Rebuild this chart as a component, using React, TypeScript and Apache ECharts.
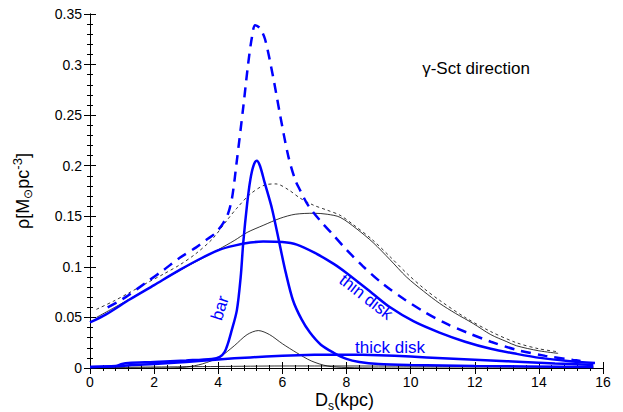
import React, { useEffect, useRef } from "react";
import * as echarts from "echarts";

// ---- data (x in kpc, y in M_sun pc^-3) ----
const totalBlueX = [0.55, 0.9, 1.2, 1.77, 2.3, 2.8, 3.3, 3.64, 3.9, 4.15, 4.3, 4.43, 4.58, 4.78, 4.93, 5.05, 5.15, 5.3, 5.46, 5.71, 5.93, 6.18, 6.4, 6.55, 6.8, 7.17, 7.6, 8.0, 8.5, 9.14, 9.8, 10.4, 11.1, 11.76, 12.5, 13.3, 14.2, 15.07, 15.3];
const totalBlueY = [0.060, 0.066, 0.072, 0.085, 0.097, 0.109, 0.119, 0.127, 0.133, 0.143, 0.152, 0.168, 0.205, 0.258, 0.300, 0.327, 0.339, 0.336, 0.325, 0.288, 0.250, 0.210, 0.186, 0.176, 0.161, 0.146, 0.131, 0.117, 0.101, 0.083, 0.068, 0.056, 0.044, 0.035, 0.026, 0.018, 0.012, 0.008, 0.007];

const thinDiskX = [0, 0.5, 1.25, 2, 2.8, 3.5, 4.05, 4.5, 5.0, 5.4, 6.0, 6.45, 7.0, 7.6, 8.0, 8.8, 9.36, 10.1, 10.9, 11.7, 12.5, 13.3, 14.04, 14.9, 15.75];
const thinDiskY = [0.045, 0.053, 0.068, 0.082, 0.097, 0.109, 0.117, 0.121, 0.124, 0.125, 0.1245, 0.122, 0.114, 0.103, 0.094, 0.074, 0.060, 0.046, 0.035, 0.026, 0.019, 0.014, 0.010, 0.007, 0.005];

const barX = [0, 0.8, 1.0, 1.2, 2, 3, 3.8, 4.05, 4.2, 4.3, 4.4, 4.58, 4.7, 4.78, 4.9, 5.0, 5.1, 5.2, 5.3, 5.45, 5.68, 5.93, 6.1, 6.33, 6.6, 6.86, 7.2, 7.6, 8.0, 8.4, 9, 10, 12, 15.7];
const barY = [0.001, 0.002, 0.004, 0.005, 0.006, 0.0075, 0.009, 0.011, 0.016, 0.024, 0.035, 0.057, 0.09, 0.124, 0.162, 0.186, 0.2, 0.205, 0.2, 0.183, 0.157, 0.12, 0.095, 0.067, 0.048, 0.035, 0.023, 0.015, 0.009, 0.006, 0.004, 0.003, 0.002, 0.001];

const thickDiskX = [0, 1.0, 1.3, 2, 3, 4, 5, 6, 7, 7.8, 8.5, 9.5, 10.5, 11.5, 12.5, 13.5, 14.5, 15.7];
const thickDiskY = [0.001, 0.002, 0.003, 0.004, 0.006, 0.0085, 0.0105, 0.012, 0.013, 0.0132, 0.013, 0.012, 0.0105, 0.009, 0.0075, 0.006, 0.0045, 0.003];

const thinModelX = [0.2, 1, 2, 3, 3.6, 4.0, 4.5, 4.9, 5.4, 5.93, 6.4, 7.0, 7.4, 7.8, 8.3, 8.83, 9.36, 9.87, 10.4, 10.9, 11.4, 11.95, 12.5, 13.0, 13.3, 14.0, 14.6];
const thinModelY = [0.050, 0.064, 0.082, 0.100, 0.110, 0.117, 0.126, 0.134, 0.141, 0.148, 0.152, 0.153, 0.152, 0.149, 0.138, 0.124, 0.107, 0.090, 0.076, 0.064, 0.054, 0.044, 0.033, 0.026, 0.022, 0.017, 0.0145];

const totalModelX = [0.2, 0.73, 1.2, 1.77, 2.3, 2.8, 3.3, 3.83, 4.27, 4.58, 5.0, 5.46, 5.8, 6.2, 6.55, 6.97, 7.4, 7.8, 8.2, 8.8, 9.36, 9.9, 10.4, 10.9, 11.7, 12.5, 13.3, 14.0, 14.6];
const totalModelY = [0.058, 0.066, 0.074, 0.084, 0.093, 0.102, 0.113, 0.128, 0.146, 0.158, 0.172, 0.181, 0.182, 0.176, 0.168, 0.161, 0.156, 0.151, 0.142, 0.127, 0.110, 0.093, 0.079, 0.067, 0.050, 0.036, 0.025, 0.019, 0.016];

const barModelX = [0, 2.5, 3.0, 3.5, 4.05, 4.5, 4.9, 5.25, 5.6, 6.0, 6.45, 6.9, 7.4, 8, 9, 15.7];
const barModelY = [0, 0, 0.001, 0.004, 0.011, 0.022, 0.033, 0.037, 0.033, 0.024, 0.015, 0.007, 0.002, 0.0005, 0, 0];

const thickModelX = [0, 2, 4, 6, 8, 10, 12, 14, 15.7];
const thickModelY = [0.0005, 0.001, 0.0015, 0.002, 0.002, 0.0018, 0.0015, 0.0012, 0.001];

const xTicks = { min: 0, max: 16, interval: 2 };
const yTicks = { min: 0, max: 0.35, interval: 0.05 };

const pairs = (xs: number[], ys: number[]) => xs.map((x, i) => [x, ys[i]]);

const BLUE = "#0000ff";
const FONT = "Liberation Sans";

export default function App() {
  const ref = useRef<HTMLDivElement>(null);
  useEffect(() => {
    if (!ref.current) return;
    const chart = echarts.init(ref.current, null, { renderer: "svg" });
    const axisCommon = {
      axisLine: { show: true, lineStyle: { color: "#000", width: 1 } },
      axisTick: { show: true, inside: true, length: 6, lineStyle: { color: "#000" } },
      minorTick: { show: true, splitNumber: 5, length: 3, lineStyle: { color: "#000" } },
      splitLine: { show: false },
      minorSplitLine: { show: false },
    };
    const line = (data: number[][], color: string, width: number, type: any = "solid") => ({
      type: "line",
      data,
      smooth: 0.3,
      symbol: "none",
      lineStyle: { color, width, type },
      z: color === BLUE ? 3 : 2,
    });
    const txt = (text: string, x: number, y: number, size: number, color = "#000", align = "left", rotation = 0) => ({
      type: "text",
      x,
      y,
      rotation,
      style: { text, font: `${size}px "${FONT}"`, fill: color, textAlign: align, textVerticalAlign: "middle" },
    });
    chart.setOption({
      animation: false,
      grid: { left: 90, right: 20, top: 14, bottom: 44, outerBoundsMode: "none", containLabel: false },
      xAxis: [
        {
          type: "value",
          ...xTicks,
          ...axisCommon,
          axisLabel: { color: "#000", fontFamily: FONT, fontSize: 14, margin: 7 },
        },
        {
          type: "value",
          position: "top",
          ...xTicks,
          ...axisCommon,
          axisLabel: { show: false },
        },
      ],
      yAxis: [
        {
          type: "value",
          ...yTicks,
          ...axisCommon,
          axisLabel: {
            color: "#000",
            fontFamily: FONT,
            fontSize: 14,
            margin: 8,
            formatter: (v: number) => String(+v.toFixed(2)),
          },
          name: "{a|ρ[M}{sub|⊙}{a|pc}{sup|-3}{a|]}",
          nameLocation: "middle",
          nameGap: 56,
          nameRotate: 90,
          nameTextStyle: {
            rich: {
              a: { fontFamily: FONT, fontSize: 18, color: "#000", lineHeight: 22 },
              sub: { fontFamily: FONT, fontSize: 12, color: "#000", padding: [10, 0, 0, 0] },
              sup: { fontFamily: FONT, fontSize: 13, color: "#000", padding: [0, 0, 10, 0] },
            },
          },
        },
        {
          type: "value",
          position: "right",
          ...yTicks,
          ...axisCommon,
          axisLabel: { show: false },
        },
      ],
      series: [
        line(pairs(thickModelX, thickModelY), "#000", 0.8),
        line(pairs(barModelX, barModelY), "#000", 0.8),
        line(pairs(thinModelX, thinModelY), "#000", 0.8),
        line(pairs(totalModelX, totalModelY), "#000", 0.8, [3, 3]),
        line(pairs(thickDiskX, thickDiskY), BLUE, 2.5),
        line(pairs(barX, barY), BLUE, 2.5),
        line(pairs(thinDiskX, thinDiskY), BLUE, 2.5),
        line(pairs(totalBlueX, totalBlueY), BLUE, 2.5, [10, 7]),
      ],
      graphic: [
        // x-axis title D_s(kpc)
        txt("D", 315, 400, 18),
        txt("s", 328, 406, 12),
        txt("(kpc)", 334, 400, 18),
        txt("γ-Sct direction", 476, 68, 17, "#000", "center"),
        txt("bar", 220, 308, 17, BLUE, "center", (72 * Math.PI) / 180),
        txt("thin disk", 366, 297, 17, BLUE, "center", (-38 * Math.PI) / 180),
        txt("thick disk", 390, 347, 17, BLUE, "center"),
      ],
    });
    return () => chart.dispose();
  }, []);
  return <div ref={ref} style={{ width: 623, height: 412, position: "absolute", left: 0, top: 0 }} />;
}
